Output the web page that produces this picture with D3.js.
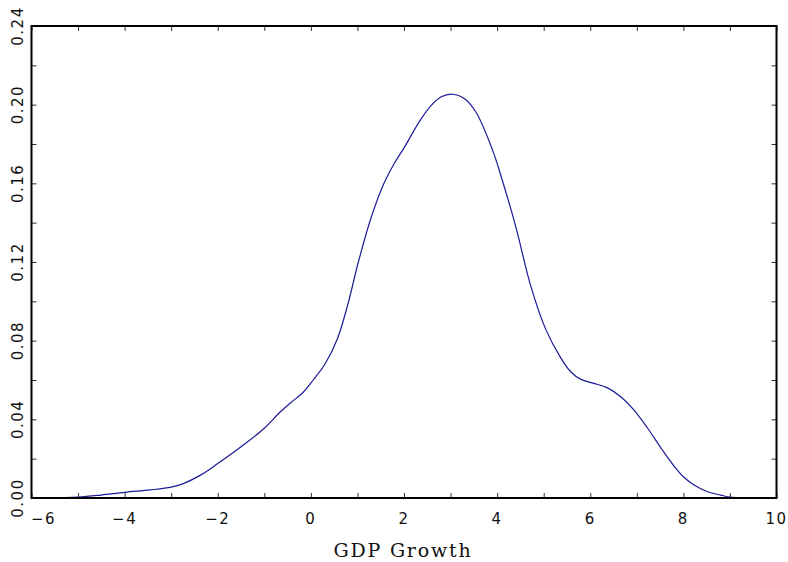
<!DOCTYPE html>
<html>
<head>
<meta charset="utf-8">
<script src="https://cdn.jsdelivr.net/npm/d3@7"></script>
<style>
  html, body { margin: 0; padding: 0; background: #ffffff; }
  svg { display: block; }
  .tick-label { font-family: "DejaVu Sans", sans-serif; font-size: 15px; fill: #111; letter-spacing: 1.5px; }
  .axis-title { font-family: "DejaVu Serif", serif; font-size: 19px; fill: #111; letter-spacing: 1.8px; }
</style>
</head>
<body>
<svg id="chart" width="788" height="562"></svg>
<script>
// Kernel density estimate of GDP growth
const growth  = [-5.7, -5.0, -4.5, -4.0, -3.45, -3.0, -2.74, -2.38, -2.0, -1.45, -1.0, -0.66, -0.44, -0.16, 0.05, 0.3, 0.57, 0.8, 1.02, 1.3, 1.57, 1.8, 2.0, 2.36, 2.6, 2.8, 3.04, 3.3, 3.55, 3.9, 4.08, 4.4, 4.72, 5.04, 5.37, 5.58, 5.8, 6.08, 6.37, 6.66, 6.94, 7.23, 7.52, 7.8, 8.0, 8.23, 8.52, 8.8, 9.0, 9.3];
const density = [0.0000, 0.0004, 0.0015, 0.0029, 0.0041, 0.0055, 0.0073, 0.0115, 0.0175, 0.0269, 0.0355, 0.0437, 0.0483, 0.0539, 0.0600, 0.0680, 0.0810, 0.0990, 0.1200, 0.1430, 0.1600, 0.1705, 0.1780, 0.1925, 0.2000, 0.2040, 0.2053, 0.2030, 0.1960, 0.1770, 0.1640, 0.1380, 0.1080, 0.0860, 0.0711, 0.0642, 0.0603, 0.0583, 0.0560, 0.0514, 0.0447, 0.0356, 0.0254, 0.0162, 0.0108, 0.0066, 0.0032, 0.0015, 0.0004, 0.0000];

const xTickValues = [-6, -4, -2, 0, 2, 4, 6, 8, 10];
const xMinorTicks = d3.range(-6, 11, 1);
const yTickValues = [0, 0.04, 0.08, 0.12, 0.16, 0.20, 0.24];
const yMinorTicks = d3.range(0, 0.2401, 0.02);
const xTitle = "GDP Growth";

const svg = d3.select("#chart");
const plot = { left: 31.5, right: 776.5, top: 26, bottom: 498 };

const x = d3.scaleLinear().domain([-6, 10]).range([plot.left, plot.right]);
const y = d3.scaleLinear().domain([0, 0.24]).range([plot.bottom, plot.top]);

const fmtY = d3.format(".2f");
const fmtX = v => (v < 0 ? "\u2212" + Math.abs(v) : String(v));

// inward ticks on all four sides
const tickLen = 5;
const tickStroke = "#333";
const axisBottom = d3.axisBottom(x).tickValues(xMinorTicks).tickSizeInner(-tickLen).tickSizeOuter(0).tickFormat("");
const axisTop = d3.axisTop(x).tickValues(xMinorTicks).tickSizeInner(-tickLen).tickSizeOuter(0).tickFormat("");
const axisLeft = d3.axisLeft(y).tickValues(yMinorTicks).tickSizeInner(-tickLen).tickSizeOuter(0).tickFormat("");
const axisRight = d3.axisRight(y).tickValues(yMinorTicks).tickSizeInner(-tickLen).tickSizeOuter(0).tickFormat("");

function styleAxis(g) {
  g.select(".domain").remove();
  g.selectAll(".tick line").attr("stroke", tickStroke).attr("stroke-width", 1);
}
svg.append("g").attr("transform", `translate(0,${plot.bottom})`).call(axisBottom).call(styleAxis);
svg.append("g").attr("transform", `translate(0,${plot.top})`).call(axisTop).call(styleAxis);
svg.append("g").attr("transform", `translate(${plot.left},0)`).call(axisLeft).call(styleAxis);
svg.append("g").attr("transform", `translate(${plot.right},0)`).call(axisRight).call(styleAxis);

// x tick labels (first one nudged clear of the y labels)
svg.append("g").selectAll("text")
  .data(xTickValues)
  .join("text")
  .attr("class", "tick-label")
  .attr("x", d => x(d) + (d === -6 ? 12 : 0))
  .attr("y", 524)
  .attr("text-anchor", "middle")
  .text(fmtX);

// y tick labels, rotated
svg.append("g").selectAll("text")
  .data(yTickValues)
  .join("text")
  .attr("class", "tick-label")
  .attr("transform", d => `translate(23,${y(d)}) rotate(-90)`)
  .attr("text-anchor", "middle")
  .text(fmtY);

// density curve
const pts = growth.map((g, i) => [g, density[i]]);
const line = d3.line().x(d => x(d[0])).y(d => y(d[1])).curve(d3.curveCatmullRom.alpha(0.5));
svg.append("path")
  .datum(pts)
  .attr("d", line)
  .attr("fill", "none")
  .attr("stroke", "#1a1a96")
  .attr("stroke-width", 1.2);

// plot frame
svg.append("rect")
  .attr("x", plot.left).attr("y", plot.top)
  .attr("width", plot.right - plot.left).attr("height", plot.bottom - plot.top)
  .attr("fill", "none").attr("stroke", "#000").attr("stroke-width", 2);

// axis title
svg.append("text")
  .attr("class", "axis-title")
  .attr("x", 403).attr("y", 557)
  .attr("text-anchor", "middle")
  .text(xTitle);
</script>
</body>
</html>
